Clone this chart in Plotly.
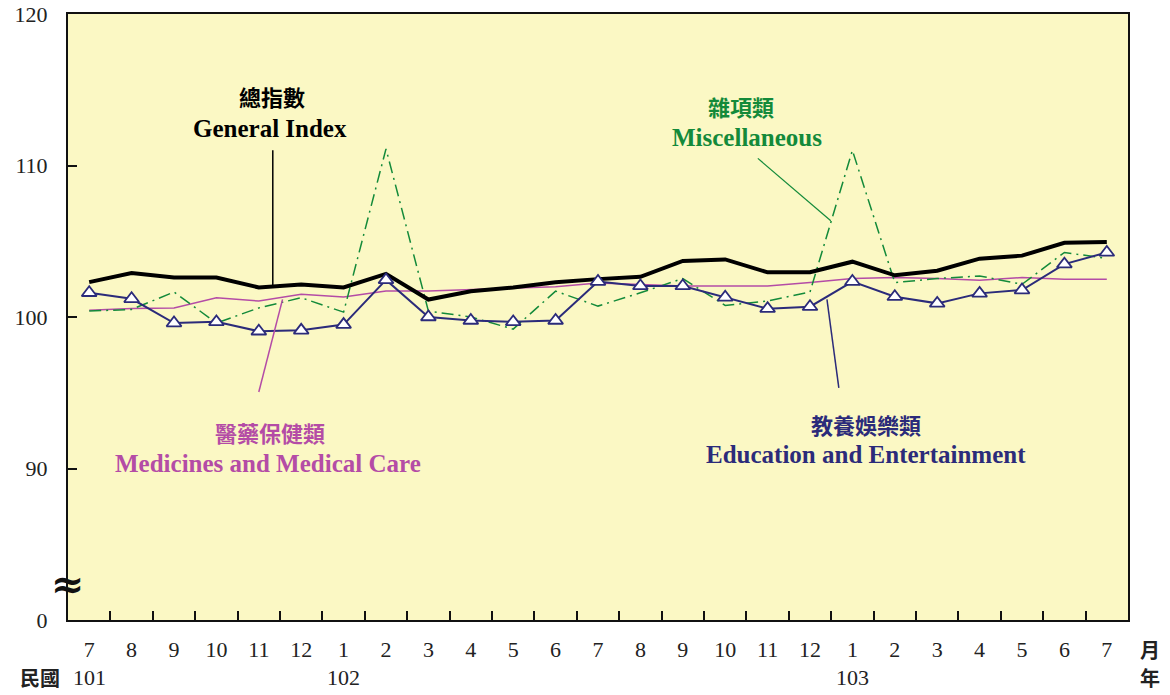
import plotly.graph_objects as go

months = ["7", "8", "9", "10", "11", "12", "1", "2", "3", "4", "5", "6",
          "7", "8", "9", "10", "11", "12", "1", "2", "3", "4", "5", "6", "7"]
years = ["101", "102", "103"]
year_pos = [0, 6, 18]

general = [102.3, 102.9, 102.6, 102.6, 101.95, 102.15, 101.95, 102.85, 101.15, 101.7,
           101.95, 102.3, 102.5, 102.65, 103.7, 103.8, 102.95, 102.95, 103.65, 102.75,
           103.05, 103.85, 104.05, 104.9, 104.95]
education = [101.6, 101.2, 99.6, 99.68, 99.06, 99.12, 99.5, 102.45, 100.0, 99.77,
             99.68, 99.77, 102.34, 102.05, 102.05, 101.3, 100.55, 100.68, 102.34, 101.34,
             100.9, 101.56, 101.78, 103.49, 104.26]
medicines = [100.45, 100.56, 100.6, 101.27, 101.05, 101.5, 101.32, 101.71, 101.71, 101.8,
             101.9, 102.0, 102.25, 102.16, 102.05, 102.05, 102.05, 102.27, 102.54, 102.6,
             102.54, 102.43, 102.6, 102.49, 102.49]
misc = [100.39, 100.5, 101.65, 99.6, 100.6, 101.27, 100.32, 111.1, 100.39, 100.0,
        99.2, 101.71, 100.72, 101.6, 102.54, 100.76, 101.05, 101.65, 111.0, 102.27,
        102.54, 102.71, 102.16, 104.26, 103.87]

ytick_vals = [80, 90, 100, 110, 120]
ytick_text = ["0", "90", "100", "110", "120"]

BLACK = "#000000"
NAVY = "#2B2B7A"
MAGENTA = "#B44CA6"
GREEN = "#138A3A"
BG = "#FBF8C4"
SERIF = "Liberation Serif"
CJK = "Noto Sans CJK TC"

x = list(range(len(months)))

fig = go.Figure()
fig.add_trace(go.Scatter(x=x, y=medicines, mode="lines",
                         line=dict(color=MAGENTA, width=1.5), showlegend=False))
fig.add_trace(go.Scatter(x=x, y=misc, mode="lines",
                         line=dict(color=GREEN, width=1.5, dash="12px,5px,2px,5px"),
                         showlegend=False))
fig.add_trace(go.Scatter(x=x, y=general, mode="lines",
                         line=dict(color=BLACK, width=4), showlegend=False))
fig.add_trace(go.Scatter(x=x, y=education, mode="lines+markers",
                         line=dict(color=NAVY, width=2),
                         marker=dict(symbol="triangle-up", size=13, color="white",
                                     line=dict(color=NAVY, width=1.8)),
                         showlegend=False))
# overlay axis for boundary tick marks
fig.add_trace(go.Scatter(x=[None], y=[None], xaxis="x2", showlegend=False))

# leader lines
leaders = [
    (4.33, 111.0, 4.33, 101.95, BLACK, 1.5),
    (15.77, 110.47, 17.49, 106.35, GREEN, 1.2),
    (4.56, 101.16, 4.0, 95.05, MAGENTA, 1.5),
    (17.4, 101.16, 17.68, 95.32, NAVY, 1.5),
]
for x0, y0, x1, y1, c, w in leaders:
    fig.add_shape(type="line", x0=x0, y0=y0, x1=x1, y1=y1, xref="x", yref="y",
                  line=dict(color=c, width=w))

labels = [
    (4.30, 114.58, "總指數", BLACK, CJK, 22),
    (4.26, 112.46, "General Index", BLACK, SERIF, 25),
    (15.37, 113.92, "雜項類", GREEN, CJK, 22),
    (15.51, 111.86, "Miscellaneous", GREEN, SERIF, 25),
    (4.26, 92.39, "醫藥保健類", MAGENTA, CJK, 22),
    (4.21, 90.33, "Medicines and Medical Care", MAGENTA, SERIF, 25),
    (18.32, 92.92, "教養娛樂類", NAVY, CJK, 22),
    (18.32, 90.93, "Education and Entertainment", NAVY, SERIF, 25),
]
for lx, ly, t, c, f, s in labels:
    fig.add_annotation(x=lx, y=ly, xref="x", yref="y", text="<b>%s</b>" % t,
                       showarrow=False, font=dict(family=f, size=s, color=c))

for yp, yt in zip(year_pos, years):
    fig.add_annotation(x=yp, y=-0.0957, xref="x", yref="paper", text=yt,
                       xanchor="center", yanchor="middle",
                       showarrow=False, font=dict(family=SERIF, size=22, color="#222"))

fig.add_annotation(x=-0.0264, y=-0.0957, xref="paper", yref="paper", text="<b>民國</b>",
                   xanchor="center", yanchor="middle",
                   showarrow=False, font=dict(family=CJK, size=20, color="#222"))
fig.add_annotation(x=1.0208, y=-0.0495, xref="paper", yref="paper", text="<b>月</b>",
                   xanchor="center", yanchor="middle",
                   showarrow=False, font=dict(family=CJK, size=20, color="#222"))
fig.add_annotation(x=1.0208, y=-0.0957, xref="paper", yref="paper", text="<b>年</b>",
                   xanchor="center", yanchor="middle",
                   showarrow=False, font=dict(family=CJK, size=20, color="#222"))
fig.add_annotation(x=0.0, y=0.061, xref="paper", yref="paper", text="<b>≈</b>",
                   xanchor="center", yanchor="middle",
                   showarrow=False, font=dict(family="DejaVu Serif", size=40, color="#111"))

fig.update_layout(
    width=1170, height=695,
    margin=dict(l=68, r=42, t=14, b=75),
    paper_bgcolor="white", plot_bgcolor=BG,
    xaxis=dict(range=[-0.5, 24.5], tickvals=x, ticktext=months, ticks="",
               showgrid=False, zeroline=False, showline=True, linecolor="#111",
               linewidth=2, mirror=True, ticklabelstandoff=9, automargin=False,
               tickfont=dict(family=SERIF, size=22, color="#222")),
    xaxis2=dict(range=[-0.5, 24.5], overlaying="x", side="bottom", automargin=False,
                tickvals=[i + 0.5 for i in range(len(months) - 1)],
                ticks="inside", ticklen=9, tickwidth=1.5, tickcolor="#111",
                showticklabels=False, showgrid=False, zeroline=False, showline=False),
    yaxis=dict(range=[80, 120], tickvals=ytick_vals, ticktext=ytick_text,
               ticks="inside", ticklen=9, tickwidth=1.5, tickcolor="#111",
               showgrid=False, zeroline=False, showline=True, linecolor="#111",
               linewidth=2, mirror=True, ticklabelstandoff=14, automargin=False,
               tickfont=dict(family=SERIF, size=22, color="#222")),
)

fig.write_html("out.html", config={"displayModeBar": False},
               post_script="document.body.style.margin='0';document.body.style.overflow='hidden';")
